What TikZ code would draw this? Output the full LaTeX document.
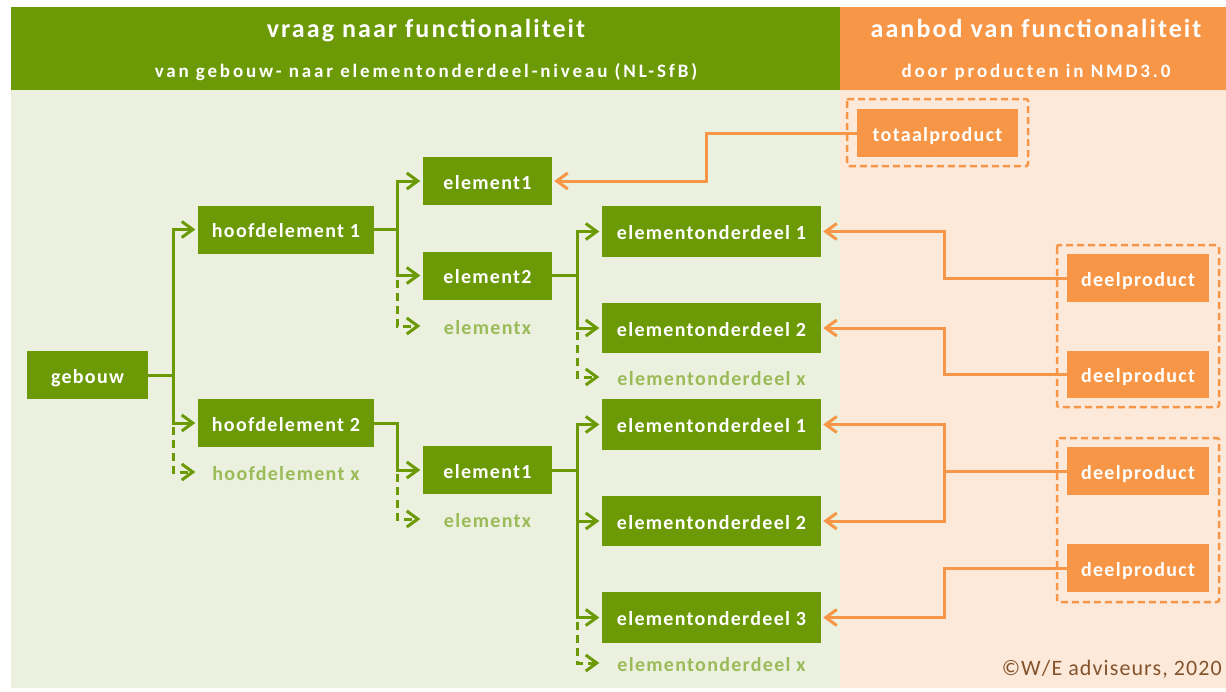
\documentclass[tikz,border=0pt]{standalone}
\usepackage{fontspec}
\setmainfont{Carlito}
\newfontfamily\nodefont[LetterSpace=6.5]{Carlito}
\newfontfamily\titlefont[LetterSpace=8]{Carlito}
\newfontfamily\subfont[LetterSpace=15]{Carlito}
\newfontfamily\copyfont[LetterSpace=5]{Carlito}
\usetikzlibrary{arrows.meta}
\definecolor{gdark}{HTML}{6B9A06}
\definecolor{gbg}{HTML}{EBF1DE}
\definecolor{glight}{HTML}{9BBB59}
\definecolor{ohead}{HTML}{F79646}
\definecolor{obg}{HTML}{FDE9D9}
\definecolor{cbrown}{HTML}{84532B}
\tikzset{
  nfont/.style={font=\nodefont\bfseries\fontsize{20}{24}\selectfont, text height=16pt, text depth=0pt},
  gbox/.style={nfont, fill=gdark, text=white, inner sep=0pt, minimum height=48pt},
  obox/.style={nfont, fill=ohead, text=white, inner sep=0pt, minimum height=48pt},
  xtext/.style={nfont, text=glight, inner sep=0pt, minimum height=20pt},
  garr/.style={draw=gdark, line width=3pt, shorten >=2.5pt, -{Straight Barb[length=11pt,width=16pt,line width=3pt]}},
  gdash/.style={garr, dash pattern=on 8pt off 5pt, dash phase=-4pt},
  oarr/.style={draw=ohead, line width=3pt, shorten >=2pt, -{Straight Barb[length=11pt,width=16pt,line width=3pt]}},
  obound/.style={draw=ohead, line width=2.5pt, dash pattern=on 7pt off 4pt, rounded corners=2pt},
  titletxt/.style={anchor=base, inner sep=0pt, text=white, font=\titlefont\bfseries\fontsize{26}{30}\selectfont},
  subtxt/.style={anchor=base, inner sep=0pt, text=white, font=\subfont\bfseries\fontsize{19}{22}\selectfont}
}
\begin{document}
\begin{tikzpicture}[x=1pt,y=-1pt]
\useasboundingbox (0,0) rectangle (1226,691);
\fill[white] (0,0) rectangle (1226,691);
% backgrounds
\fill[gbg] (11,90) rectangle (840,688);
\fill[obg] (840,90) rectangle (1226,688);
\fill[gdark] (11,7) rectangle (840,90);
\fill[ohead] (840,7) rectangle (1226,90);
% headers
\node[titletxt] (t1) at (426,37) {vraag naar functionaliteit};
\node[subtxt] (s1) at (426,77) {van gebouw- naar elementonderdeel-niveau (NL-SfB)};
\node[titletxt] (t2) at (1036,37) {aanbod van functionaliteit};
\node[subtxt] (s2) at (1036,77) {door producten in NMD3.0};
% green nodes
\node[gbox, minimum width=121pt] (geb) at (87.5,375) {gebouw};
\node[gbox, minimum width=176pt] (h1) at (286,229.5) {hoofdelement 1};
\node[gbox, minimum width=176pt] (h2) at (286,423) {hoofdelement 2};
\node[xtext, minimum width=176pt] (hx) at (286,472) {hoofdelement x};
\node[gbox, minimum width=129pt] (e1) at (487.5,181) {element1};
\node[gbox, minimum width=129pt] (e2) at (487.5,275.5) {element2};
\node[xtext, minimum width=129pt] (ex1) at (487.5,326) {elementx};
\node[gbox, minimum width=129pt] (e1b) at (487.5,470) {element1};
\node[xtext, minimum width=129pt] (ex2) at (487.5,519) {elementx};
\node[gbox, minimum width=219pt, minimum height=51pt] (eo1) at (711.5,231.5) {elementonderdeel 1};
\node[gbox, minimum width=219pt, minimum height=50pt] (eo2) at (711.5,328) {elementonderdeel 2};
\node[xtext, minimum width=219pt] (eox1) at (711.5,377) {elementonderdeel x};
\node[gbox, minimum width=219pt, minimum height=51pt] (eo1b) at (711.5,424.5) {elementonderdeel 1};
\node[gbox, minimum width=219pt, minimum height=50pt] (eo2b) at (711.5,521) {elementonderdeel 2};
\node[gbox, minimum width=219pt, minimum height=51pt] (eo3b) at (711.5,617.5) {elementonderdeel 3};
\node[xtext, minimum width=219pt] (eox2) at (711.5,663) {elementonderdeel x};
% orange nodes
\node[obox, minimum width=161pt] (tp) at (937.5,133) {totaalproduct};
\node[obox, minimum width=142pt] (dp1) at (1138,278) {deelproduct};
\node[obox, minimum width=142pt, minimum height=47pt] (dp2) at (1138,374.5) {deelproduct};
\node[obox, minimum width=142pt] (dp3) at (1138,471) {deelproduct};
\node[obox, minimum width=142pt] (dp4) at (1138,568) {deelproduct};
\draw[obound] (847,99) rectangle (1028,166);
\draw[obound] (1057,245) rectangle (1219,407);
\draw[obound] (1057,438) rectangle (1219,602);
% green connectors
\draw[garr] (geb.east) -- (173,375) |- (h1.west);
\draw[garr] (geb.east) -- (173,375) |- (h2.west);
\draw[gdash] (173,423) |- (hx.west);
\draw[garr] (h1.east) -- (397,229.5) |- (e1.west);
\draw[garr] (h1.east) -- (397,229.5) |- (e2.west);
\draw[gdash] (397,275.5) |- (ex1.west);
\draw[garr] (h2.east) -| (397,470) -- (e1b.west);
\draw[gdash] (397,470) |- (ex2.west);
\draw[garr] (e2.east) -- (577,275.5) |- (eo1.west);
\draw[garr] (e2.east) -- (577,275.5) |- (eo2.west);
\draw[gdash] (577,328) |- (eox1.west);
\draw[garr] (e1b.east) -- (577,470) |- (eo1b.west);
\draw[garr] (e1b.east) -- (577,470) |- (eo2b.west);
\draw[garr] (e1b.east) -- (577,470) |- (eo3b.west);
\draw[gdash] (577,617.5) |- (eox2.west);
% orange connectors
\draw[oarr] (tp.west) -- (706,133) |- (e1.east);
\draw[oarr] (dp1.west) -- (944,278) |- (eo1.east);
\draw[oarr] (dp2.west) -- (944,374.5) |- (eo2.east);
\draw[oarr] (dp3.west) -- (944,471) |- (eo1b.east);
\draw[oarr] (dp3.west) -- (944,471) |- (eo2b.east);
\draw[oarr] (dp4.west) -- (944,568) |- (eo3b.east);
% copyright
\node[anchor=base east, text=cbrown, font=\copyfont\fontsize{22}{26}\selectfont, inner sep=0pt] (copy) at (1222,675) {©W/E adviseurs, 2020};
\end{tikzpicture}
\end{document}
